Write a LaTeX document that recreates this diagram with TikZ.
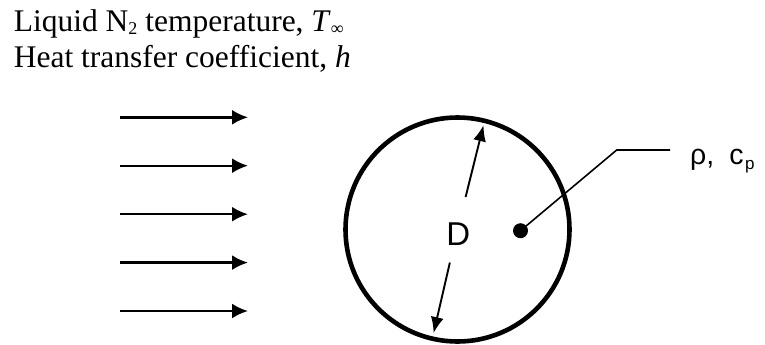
\documentclass[tikz,border=0pt]{standalone}
\usepackage{fontspec}
\setmainfont{Liberation Serif}
\newfontfamily\arialf{Liberation Sans}
\usetikzlibrary{arrows.meta,calc}
\newcommand{\mysub}[2][18]{\raisebox{-2.5pt}{\fontsize{#1}{#1}\selectfont #2}}
\tikzset{
  toptext/.style={anchor=base west, inner sep=0pt, font=\fontsize{31.5}{34}\selectfont},
  flowarrow/.style={line width=2.4pt, -{Latex[length=16pt,width=15pt]}},
  darrow/.style={line width=1.9pt, -{Latex[length=16pt,width=13pt]}},
  leader/.style={line width=1.6pt},
}
\begin{document}
\begin{tikzpicture}[x=1pt,y=-1pt]
\useasboundingbox (0,0) rectangle (765,345);
\node[toptext] (t1) at (13.6,32) {Liquid N\mysub{2} temperature, \textit{T}\mysub{∞}};
\node[toptext] (t2) at (13.6,67) {Heat transfer coefficient, \textit{h}};
% flow arrows
\foreach \i/\y in {1/117.3,2/165.7,3/214.2,4/262.6,5/311} {
  \coordinate (fs\i) at (120,\y);
  \coordinate (fe\i) at (248,\y);
  \draw[flowarrow] (fs\i) -- (fe\i);
}
% sphere
\node[circle, draw, line width=4.6pt, minimum size=224pt, inner sep=0pt] (ball) at (457.5,229.5) {};
\node[anchor=base, inner sep=0pt, font=\arialf\fontsize{33}{34}\selectfont] (D) at (458.3,245) {D};
\coordinate (u0) at ($(ball.center)!0.293!(ball.76.2)$);
\coordinate (u1) at ($(ball.center)!0.94!(ball.76.2)$);
\coordinate (l0) at ($(ball.center)!0.297!(ball.-103.5)$);
\coordinate (l1) at ($(ball.center)!0.93!(ball.-103.5)$);
\draw[darrow] (u0) -- (u1);
\draw[darrow] (l0) -- (l1);
% property point
\node[circle, fill, minimum size=15pt, inner sep=0pt] (dot) at (520.5,230.7) {};
\coordinate (elbow) at (616.7,150);
\coordinate (lend) at (670,150);
\draw[leader] (dot.center) -- (elbow) -- (lend);
\node[anchor=base west, inner sep=0pt, font=\arialf\fontsize{28.5}{30}\selectfont] (props) at (690,164)
  {ρ,\hspace{15pt}c\raisebox{-5pt}{\fontsize{17}{17}\selectfont\kern1.5pt p}};
\end{tikzpicture}
\end{document}
